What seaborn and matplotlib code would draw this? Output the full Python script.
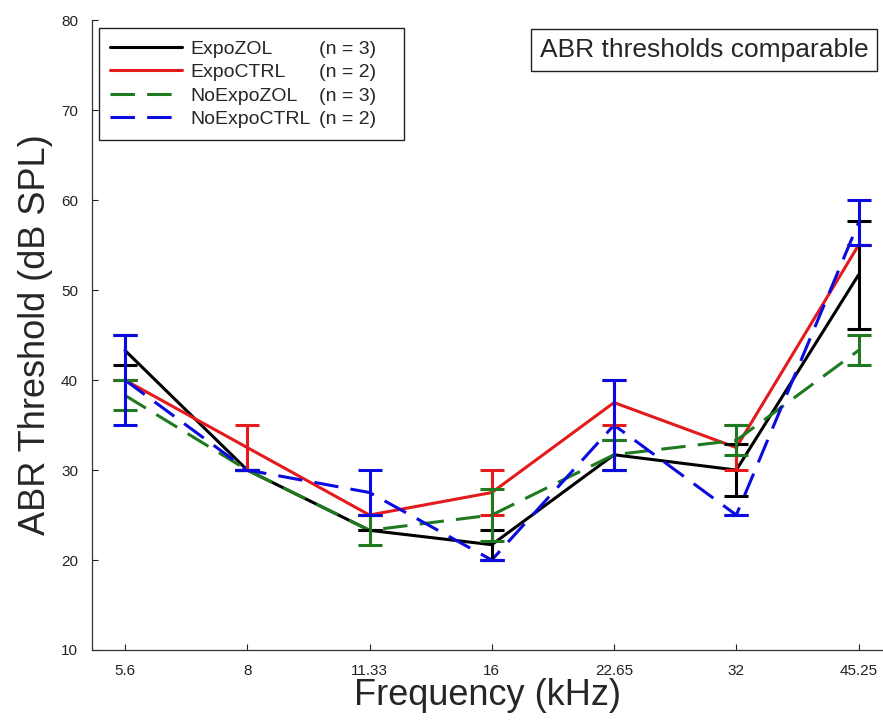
import pandas as pd
import matplotlib
matplotlib.use("Agg")
from matplotlib import pyplot as plt
from matplotlib.lines import Line2D
import seaborn as sns

# frequencies and groups
freqs = ["5.6", "8", "11.33", "16", "22.65", "32", "45.25"]
groups = ["ExpoZOL", "ExpoCTRL", "NoExpoZOL", "NoExpoCTRL"]
n_animals = [3, 2, 3, 2]

# mean thresholds (dB SPL) and SEM per group
expo_zol = [43.3, 30.0, 23.3, 21.7, 31.7, 30.0, 51.7]
expo_zol_sem = [1.67, 0.0, 0.0, 1.67, 1.67, 2.89, 6.0]
expo_ctrl = [40.0, 32.5, 25.0, 27.5, 37.5, 32.5, 55.0]
expo_ctrl_sem = [0.0, 2.5, 0.0, 2.5, 2.5, 2.5, 0.0]
noexpo_zol = [38.3, 30.0, 23.3, 25.0, 31.7, 33.3, 43.3]
noexpo_zol_sem = [1.67, 0.0, 1.67, 2.89, 1.67, 1.67, 1.67]
noexpo_ctrl = [40.0, 30.0, 27.5, 20.0, 35.0, 25.0, 57.5]
noexpo_ctrl_sem = [5.0, 0.0, 2.5, 0.0, 5.0, 0.0, 2.5]

means = [expo_zol, expo_ctrl, noexpo_zol, noexpo_ctrl]
sems = [expo_zol_sem, expo_ctrl_sem, noexpo_zol_sem, noexpo_ctrl_sem]

rows = []
for g, m, s in zip(groups, means, sems):
    for i, f in enumerate(freqs):
        rows.append(dict(group=g, pos=i, freq=f, thr=m[i], err=s[i]))
data = pd.DataFrame(rows)

palette = {"ExpoZOL": "#000000", "ExpoCTRL": "#e41a1c",
           "NoExpoZOL": "#1f7a1f", "NoExpoCTRL": "#0b0be0"}
dashes = {"ExpoZOL": "", "ExpoCTRL": "", "NoExpoZOL": (8, 4), "NoExpoCTRL": (8, 4)}
lw = 2.2

sns.set_style("ticks")
plt.rcParams['font.family'] = ['Liberation Sans', 'DejaVu Sans']

fig = plt.figure(figsize=(8.83, 7.23), dpi=100)
ax = fig.add_axes([0.1042, 0.101, 0.8958, 0.871])

sns.lineplot(data=data, x="pos", y="thr", hue="group", style="group",
             palette=palette, dashes=dashes, linewidth=lw, ax=ax,
             legend=False, estimator=None, sort=False)

for g in groups:
    sub = data[data.group == g]
    ax.errorbar(sub["pos"], sub["thr"], yerr=sub["err"], fmt="none", ecolor=palette[g],
                elinewidth=lw, capsize=8.5, capthick=lw)

ax.set_xlim(-0.27, 6.2)
ax.set_ylim(10, 80)
ax.set_xticks(range(len(freqs)))
ax.set_xticklabels(freqs)
ax.set_yticks(range(10, 81, 10))
ax.tick_params(direction="in", length=4, width=0.8, labelsize=11, colors="#222222")
ax.tick_params(axis="x", pad=10)
ax.tick_params(axis="y", pad=10)
sns.despine(ax=ax)
for sp in ["left", "bottom"]:
    ax.spines[sp].set_color("#333333")
    ax.spines[sp].set_linewidth(0.9)

ax.set_xlabel("Frequency (kHz)", fontsize=26, labelpad=0)
ax.set_ylabel("ABR Threshold (dB SPL)", fontsize=26, labelpad=6)

# legend: names in first column, n in second column
handles = [Line2D([], [], color=palette[g], lw=lw,
                  linestyle="-" if dashes[g] == "" else (0, dashes[g])) for g in groups]
blanks = [Line2D([], [], color="none") for g in groups]
labels = groups + ["(n = {})   ".format(n) for n in n_animals]
leg = ax.legend(handles + blanks, labels, ncol=2, loc="upper left",
                bbox_to_anchor=(0.0085, 0.987), borderaxespad=0, fontsize=14,
                handlelength=3.7, handletextpad=0.41, columnspacing=-3.66,
                labelspacing=0.3, frameon=True, fancybox=False, borderpad=0.6)
leg.get_frame().set_edgecolor("#222222")
leg.get_frame().set_linewidth(1.0)
leg.get_frame().set_alpha(1)

fig.text(0.6115, 0.931, "ABR thresholds comparable", fontsize=19, va="center",
         ha="left", bbox=dict(boxstyle="square,pad=0.33", fc="white", ec="#222222", lw=1.0))

plt.savefig("out.png", dpi=100)
